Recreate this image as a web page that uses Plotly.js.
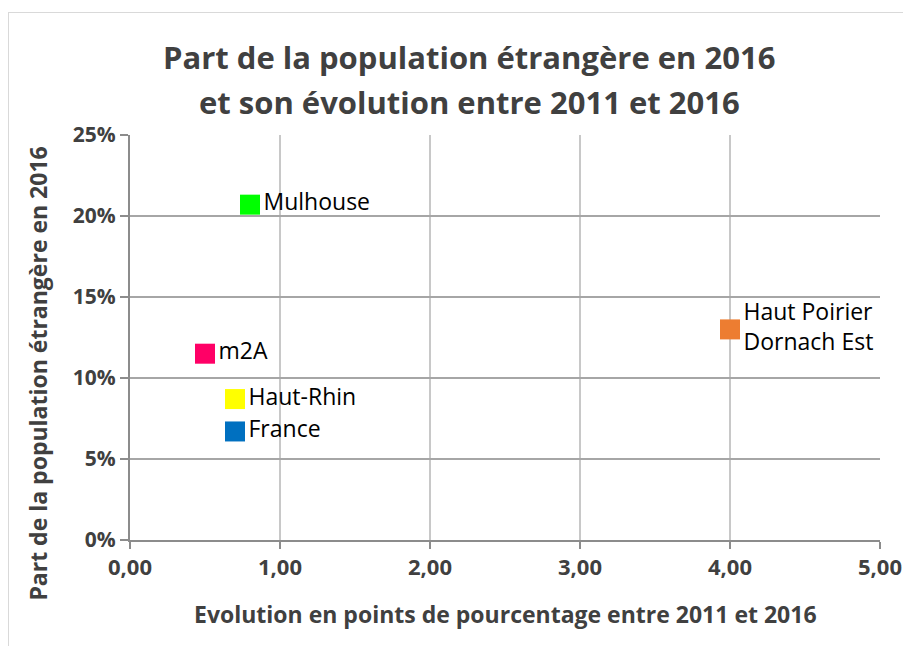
<!DOCTYPE html>
<html><head><meta charset="utf-8">
<script src="https://cdn.plot.ly/plotly-3.0.1.min.js"></script>
<style>
html,body{margin:0;padding:0;background:#fff;}
#wrap{position:relative;width:903px;height:646px;overflow:hidden;}
#frame{position:absolute;left:8px;top:12px;width:1000px;height:1000px;border:1px solid #d9d9d9;box-sizing:border-box;}
#chart{position:absolute;left:0;top:0;width:903px;height:646px;}
</style></head>
<body><div id="wrap"><div id="frame"></div><div id="chart"></div></div>
<script>
const names = ["Mulhouse", "Haut Poirier<br>Dornach Est", "m2A", "Haut-Rhin", "France"];
const evolution = [0.80, 4.00, 0.50, 0.70, 0.70];
const part = [0.207, 0.130, 0.115, 0.087, 0.067];
const colors = ["#00ff00", "#ed7d31", "#ff0066", "#ffff00", "#0070c0"];
const xTicks = [0, 1, 2, 3, 4, 5];
const xTickText = ["0,00", "1,00", "2,00", "3,00", "4,00", "5,00"];
const yTicks = [0, 0.05, 0.10, 0.15, 0.20, 0.25];
const yTickText = ["0%", "5%", "10%", "15%", "20%", "25%"];

const FONT = "Open Sans, Liberation Sans, sans-serif";
const traces = names.map((n, i) => ({
  type: "scatter", mode: "markers+text",
  x: [evolution[i]], y: [part[i]], text: [n],
  textposition: "middle right",
  textfont: {family: FONT, size: 23, color: "#000"},
  marker: {symbol: "square", size: 20, color: colors[i]},
  cliponaxis: false, showlegend: false, hoverinfo: "skip"
}));

const layout = {
  width: 903, height: 646,
  margin: {l: 129.5, r: 22.5, t: 135, b: 106},
  paper_bgcolor: "rgba(0,0,0,0)", plot_bgcolor: "#fff",
  showlegend: false,
  xaxis: {
    range: [0, 5], tickvals: xTicks, ticktext: xTickText,
    showgrid: true, gridcolor: "#c8c8c8", gridwidth: 1.5,
    showline: true, linecolor: "#8c8c8c", linewidth: 2, zeroline: false,
    ticks: "outside", ticklen: 7, tickcolor: "#8c8c8c", tickwidth: 1.5,
    tickfont: {family: FONT, size: 22, color: "#404040", weight: "bold"},
    fixedrange: true
  },
  yaxis: {
    range: [0, 0.25], tickvals: yTicks, ticktext: yTickText,
    showgrid: true, gridcolor: "#a6a6a6", gridwidth: 1.5,
    showline: true, linecolor: "#8c8c8c", linewidth: 2, zeroline: false,
    ticks: "outside", ticklen: 8, tickcolor: "#8c8c8c", tickwidth: 1.5,
    tickfont: {family: FONT, size: 21, color: "#404040", weight: "bold"},
    fixedrange: true
  },
  annotations: [
    {xref: "paper", yref: "paper", x: (469-129.5)/751, y: 1 + (135-57)/405, text: "Part de la population étrangère en 2016",
     showarrow: false, xanchor: "center", yanchor: "middle",
     font: {family: FONT, size: 31, color: "#404040", weight: "bold"}},
    {xref: "paper", yref: "paper", x: (469-129.5)/751, y: 1 + (135-102)/405, text: "et son évolution entre 2011 et 2016",
     showarrow: false, xanchor: "center", yanchor: "middle",
     font: {family: FONT, size: 31, color: "#404040", weight: "bold"}},
    {xref: "paper", yref: "paper", x: (506-129.5)/751, y: -(614-540)/405, text: "Evolution en points de pourcentage entre 2011 et 2016",
     showarrow: false, xanchor: "center", yanchor: "middle",
     font: {family: FONT, size: 23, color: "#404040", weight: "bold"}},
    {xref: "paper", yref: "paper", x: -(129.5-37)/751, y: (540-374)/405, text: "Part de la population étrangère en 2016",
     showarrow: false, xanchor: "center", yanchor: "middle", textangle: -90,
     font: {family: FONT, size: 23, color: "#404040", weight: "bold"}}
  ]
};
Plotly.newPlot("chart", traces, layout, {displayModeBar: false, staticPlot: true});
</script></body></html>
